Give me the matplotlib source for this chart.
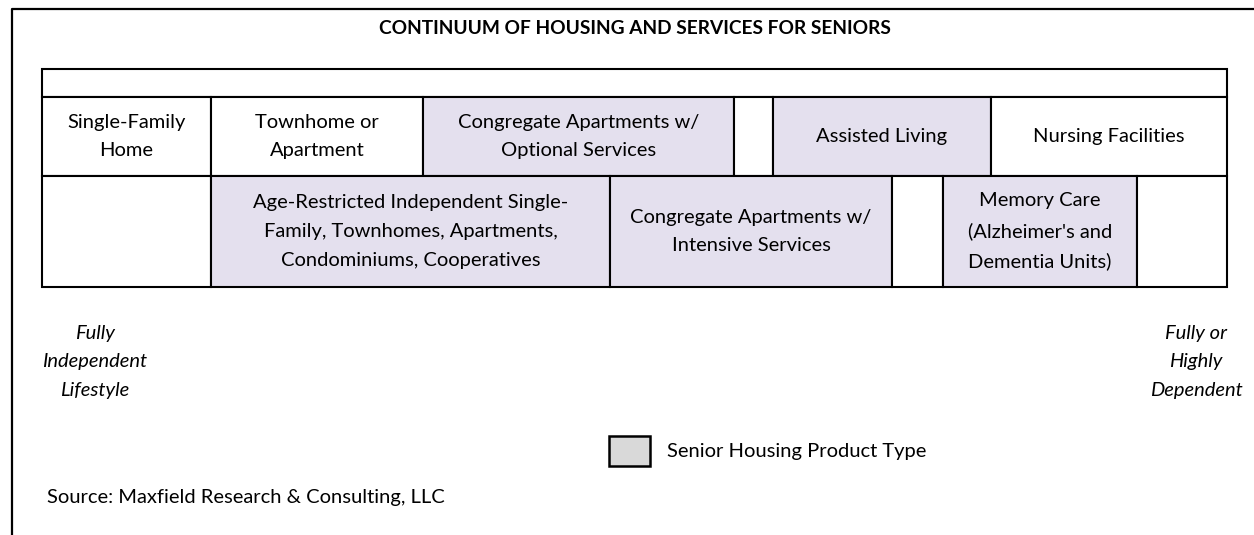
import matplotlib.pyplot as plt

# cell labels and whether the cell is a senior housing product type
upper_labels = ["Single-Family\nHome", "Townhome or\nApartment",
                "Congregate Apartments w/\nOptional Services", "",
                "Assisted Living", "Nursing Facilities"]
upper_shaded = [False, False, True, False, True, False]

lower_labels = ["", "Age-Restricted Independent Single-\nFamily, Townhomes, Apartments,\nCondominiums, Cooperatives",
                "Congregate Apartments w/\nIntensive Services", "",
                "Memory Care\n(Alzheimer's and\nDementia Units)", ""]
lower_shaded = [False, True, True, False, True, False]

title = "CONTINUUM OF HOUSING AND SERVICES FOR SENIORS"
left_note = "Fully\nIndependent\nLifestyle"
right_note = "Fully or\nHighly\nDependent"
legend_label = "Senior Housing Product Type"
source = "Source: Maxfield Research & Consulting, LLC"

# layout (pixel units)
upper_edges = [42, 211, 423, 734, 773, 991, 1227]
lower_edges = [42, 211, 610, 892, 943, 1137, 1227]
strip_top, upper_top, lower_top, table_bottom = 69, 97, 176, 287

shade = "#E4E0EE"
fs = 14.5
ls = 1.85
plt.rcParams["font.family"] = ["Lato", "DejaVu Sans"]

fig = plt.figure(figsize=(12.54, 5.35), dpi=100)
ax = fig.add_axes([0, 0, 1, 1])
ax.set_xlim(0, 1254)
ax.set_ylim(535, 0)
ax.axis("off")

# outer frame (left and top only)
ax.plot([12, 12, 1254], [535, 9, 9], color="black", lw=1.6, solid_capstyle="butt")

# empty strip at the top of the table
ax.barh((strip_top + upper_top) / 2, upper_edges[-1] - upper_edges[0], left=upper_edges[0],
        height=upper_top - strip_top, color="white", edgecolor="black", linewidth=1.5)


def draw_row(edges, labels, shaded, top, bottom):
    lefts = edges[:-1]
    widths = [b - a for a, b in zip(edges[:-1], edges[1:])]
    colors = [shade if s else "white" for s in shaded]
    yc = (top + bottom) / 2
    ax.barh([yc] * len(lefts), widths, left=lefts, height=bottom - top,
            color=colors, edgecolor="black", linewidth=1.5)
    for l, w, lab in zip(lefts, widths, labels):
        if lab:
            ax.text(l + w / 2, yc, lab, ha="center", va="center", fontsize=fs,
                    linespacing=ls, color="black")


draw_row(upper_edges, upper_labels, upper_shaded, upper_top, lower_top)
draw_row(lower_edges, lower_labels, lower_shaded, lower_top, table_bottom)

ax.text(635, 29, title, ha="center", va="center", fontsize=13.8, fontweight="bold")

ax.text(95, 362, left_note, ha="center", va="center", fontsize=fs, style="italic",
        linespacing=ls)
ax.text(1196, 362, right_note, ha="center", va="center", fontsize=fs, style="italic",
        linespacing=ls)

# legend swatch
ax.barh(451, 41, left=609, height=30, color="#D9D9D9", edgecolor="black", linewidth=1.8)
ax.text(667, 452, legend_label, ha="left", va="center", fontsize=fs)

ax.text(47, 498, source, ha="left", va="center", fontsize=fs)

fig.savefig("out.png", dpi=100)
